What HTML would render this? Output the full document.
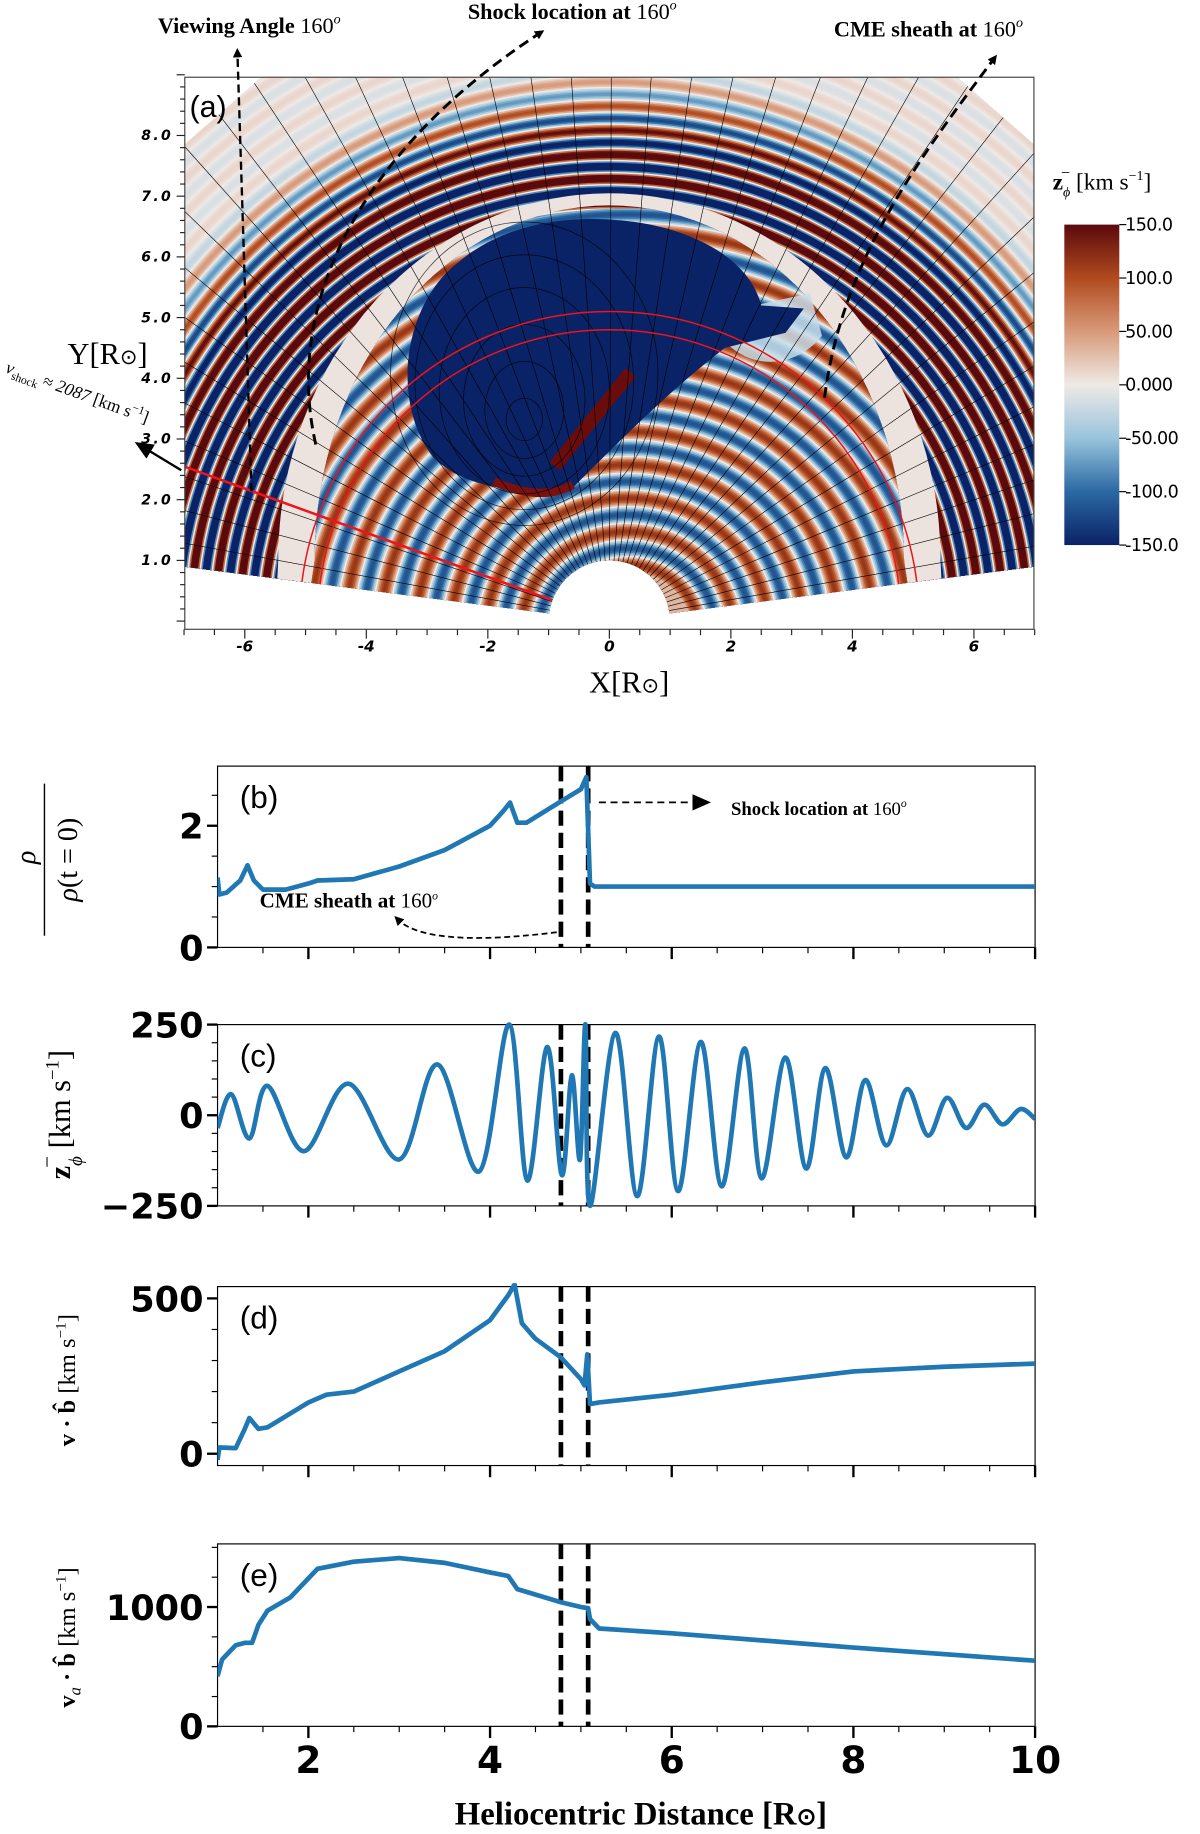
<!DOCTYPE html>
<html><head><meta charset="utf-8"><style>
html,body{margin:0;padding:0;background:#fff}
svg{display:block}
.tk{font-family:"DejaVu Sans","Liberation Sans",sans-serif;font-weight:bold}
.sr{font-family:"Liberation Serif",serif}
</style></head><body>
<svg id="fig" width="1200" height="1834" viewBox="0 0 1026 1568" xmlns="http://www.w3.org/2000/svg">
<defs>
<clipPath id="clipA"><rect x="158" y="66" width="726" height="472"/></clipPath>
<linearGradient id="cbar" x1="0" y1="0" x2="0" y2="1">
<stop offset="0" stop-color="#5a0a0c"/><stop offset="0.1667" stop-color="#b14a1e"/><stop offset="0.3333" stop-color="#d89a7a"/>
<stop offset="0.5" stop-color="#efe9e6"/><stop offset="0.6667" stop-color="#98c4dc"/><stop offset="0.8333" stop-color="#2b69a3"/><stop offset="1" stop-color="#0a2266"/>
</linearGradient>
<marker id="ah" markerWidth="8" markerHeight="8" refX="4" refY="4" orient="auto" markerUnits="userSpaceOnUse"><path d="M0,0 L8,4 L0,8 Z" fill="#000"/></marker>
<marker id="ahb" markerWidth="16" markerHeight="14" refX="8" refY="7" orient="auto" markerUnits="userSpaceOnUse"><path d="M0,0 L16,7 L0,14 Z" fill="#000"/></marker>
</defs>
<g id="panelA"></g>
<g id="panelsB"></g>
</svg>
<script>
// ---------- data for line panels ----------
const rhoX = [1.0,1.02,1.1,1.25,1.33,1.4,1.5,1.75,2.0,2.1,2.5,3.0,3.5,4.0,4.15,4.22,4.3,4.4,4.78,5.0,5.06,5.1,5.15,5.5,6,7,8,9,10];
const rhoY = [1.15,0.87,0.9,1.1,1.35,1.1,0.95,0.95,1.05,1.1,1.12,1.33,1.6,2.0,2.25,2.38,2.05,2.05,2.4,2.6,2.8,1.05,1.0,1.0,1.0,1.0,1.0,1.0,1.0];
const zX = [1.0,1.15,1.35,1.55,1.95,2.44,3.0,3.42,3.88,4.21,4.41,4.63,4.79,4.90,4.99,5.05,5.10,5.38,5.62,5.86,6.07,6.32,6.55,6.80,6.99,7.25,7.48,7.69,7.92,8.13,8.36,8.59,8.82,9.03,9.24,9.44,9.64,9.84,10.0];
const zY = [-35,58,-64,81,-99,87,-122,140,-155,250,-180,188,-165,110,-122,250,-250,227,-223,217,-209,202,-196,184,-174,159,-147,130,-116,97,-83,72,-56,48,-35,29,-25,17,-10];
const vbX = [1.0,1.02,1.2,1.3,1.35,1.45,1.55,2.0,2.2,2.5,3.0,3.5,4.0,4.2,4.27,4.35,4.5,4.78,5.0,5.04,5.07,5.1,5.2,6,7,8,9,10];
const vbY = [-20,20,18,80,115,80,85,165,190,200,265,330,430,510,545,420,370,310,240,220,320,160,165,190,230,265,280,290];
const vaX = [1.0,1.05,1.2,1.3,1.38,1.45,1.55,1.8,2.1,2.5,3.0,3.5,4.0,4.2,4.3,4.78,5.0,5.08,5.1,5.2,6.0,8.0,10.0];
const vaY = [420,560,680,700,700,850,970,1080,1320,1380,1410,1370,1290,1260,1150,1040,1000,990,900,820,780,660,550];
const dashX = [4.78, 5.08];
const xTicks = [2,4,6,8,10];

// ---------- data for map ----------
const cbTicks = [150,100,50,0,-50,-100,-150];
const cbLabels = ["150.0","100.0","50.00","0.000","-50.00","-100.0","-150.0"];
const mapXTicks = [-6,-4,-2,0,2,4,6];
const mapYTicks = [1,2,3,4,5,6,7,8];

const NS="http://www.w3.org/2000/svg";
function mk(tag, attrs, parent){const e=document.createElementNS(NS,tag);for(const k in attrs)e.setAttribute(k,attrs[k]);if(parent)parent.appendChild(e);return e;}

const cstops=[[-150,[10,34,102]],[-100,[43,105,163]],[-50,[152,196,220]],[0,[239,233,230]],[50,[216,154,122]],[100,[177,74,30]],[150,[90,10,12]]];
function cmap(v){v=Math.max(-150,Math.min(150,v));for(let i=0;i<cstops.length-1;i++){const a=cstops[i],b=cstops[i+1];if(v<=b[0]){const t=(v-a[0])/(b[0]-a[0]);return 'rgb('+a[1].map((c,j)=>Math.round(c+(b[1][j]-c)*t)).join(',')+')';}}return 'rgb(90,10,12)';}

// ---------- Panel A ----------
const A=document.getElementById('panelA');
const ax=x=>521+51.95*x, ay=y=>531-51.9*y;
const clipG=mk('g',{'clip-path':'url(#clipA)'},A);
mk('rect',{x:158,y:66,width:726,height:472,fill:'#fff'},clipG);
const img=mk('g',{transform:'translate(521,531) scale(51.95,-51.9)'},clipG);


const wedge=mk('clipPath',{id:'wedge'},img);
const th=7.3*Math.PI/180;
mk('path',{d:`M ${Math.cos(th)} ${Math.sin(th)} L ${14*Math.cos(th)} ${14*Math.sin(th)} L 0 14 L ${-14*Math.cos(th)} ${14*Math.sin(th)} L ${-Math.cos(th)} ${Math.sin(th)} A 1 1 0 0 0 ${Math.cos(th)} ${Math.sin(th)} Z`},wedge);
const wg=mk('g',{'clip-path':'url(#wedge)'},img);
const lam=0.4, st=0.025;
for(let r=13.5;r>1;r-=st){
  let amp=1; if(r>7.6) amp=Math.max(0.06,1-(r-7.6)/1.7);
  const v=210*amp*Math.sin(2*Math.PI*r/lam);
  mk('circle',{cx:0,cy:0,r:r,fill:cmap(v)},wg);
}
// sheath
mk('path',{d:'M -5.45 1 A 5.45 6.05 0 0 0 5.45 1 L 5.5 0 L 5.0 0 L 4.85 1.0 A 4.85 5.85 0 0 1 -4.85 1.0 L -5.0 0 L -5.5 0 Z',fill:'#ece2de','fill-rule':'evenodd'},wg);
// inner stripes
const ic=mk('clipPath',{id:'inner'},img);
mk('path',{d:'M -4.85 1.0 A 4.85 5.85 0 0 0 4.85 1.0 L 5.0 0 L -5.0 0 Z'},ic);
const ig=mk('g',{'clip-path':'url(#inner)'},wg);
for(let r=7;r>1;r-=0.025){
  const v=115*Math.sin(2*Math.PI*(r+0.1)/0.55);
  mk('ellipse',{cx:0.3,cy:-0.2,rx:r*1.05,ry:r,fill:cmap(v)},ig);
}
mk('path',{d:'M 1.9 4.6 C 2.4 4.1 3.1 4.2 3.5 4.7 L 3.3 5.4 L 2.4 5.2 Z',fill:'#c7dde9',opacity:0.85},wg);
// blob
mk('path',{d:'M -2.9 2.7 C -3.6 3.6 -3.4 5.2 -2.5 5.9 C -1.8 6.5 -0.8 6.7 0.2 6.6 C 1.3 6.5 2.3 6.0 2.5 5.2 L 3.2 5.15 L 2.9 4.75 L 1.9 4.5 C 1.0 3.8 0.3 3.1 -0.6 2.2 C -1.2 2.1 -2.3 2.1 -2.9 2.7 Z',fill:'#0a2266'},wg);
mk('path',{d:'M -0.9 2.55 L 0.35 4.1',stroke:'#6a0c0c','stroke-width':0.22,fill:'none'},wg);
mk('path',{d:'M -1.9 2.3 Q -1.1 1.95 -0.6 2.25',stroke:'#7a1010','stroke-width':0.14,fill:'none'},wg);
[[0.3,0.35],[0.65,0.8],[1.0,1.25],[1.4,1.7],[1.8,2.1],[2.2,2.5]].forEach(c=>{
  mk('ellipse',{cx:-1.4,cy:3.2+c[1]*0.35,rx:c[0],ry:c[1],fill:'none',stroke:'#000','stroke-width':0.7,'vector-effect':'non-scaling-stroke',opacity:0.8},wg);
});
for(let a=10;a<=170;a+=4.2){
  const t=a*Math.PI/180;
  mk('line',{x1:Math.cos(t),y1:Math.sin(t),x2:14*Math.cos(t),y2:14*Math.sin(t),stroke:'#000','stroke-width':0.6,'vector-effect':'non-scaling-stroke'},wg);
}
[4.8,5.1].forEach(r=>{mk('circle',{cx:0,cy:0,r:r,fill:'none',stroke:'#ee1419','stroke-width':1.5,'vector-effect':'non-scaling-stroke'},wg);});
const t160=160*Math.PI/180;
mk('line',{x1:Math.cos(t160),y1:Math.sin(t160),x2:9*Math.cos(t160),y2:9*Math.sin(t160),stroke:'#ee1419','stroke-width':2.5,'vector-effect':'non-scaling-stroke'},wg);
mk('rect',{x:158,y:66,width:726,height:472,fill:'none',stroke:'#444','stroke-width':1},A);
for(let x=-7;x<=7.001;x+=0.5){const maj=Math.abs(x%2)<0.01;mk('line',{x1:ax(x),y1:538,x2:ax(x),y2:538+(maj?8:5),stroke:'#222','stroke-width':1},A);}
mapXTicks.forEach(v=>{const t=mk('text',{x:ax(v),y:557,'text-anchor':'middle','font-size':13,'font-style':'italic',class:'tk'},A);t.textContent=v;});
for(let y=0;y<=9;y+=0.2){mk('line',{x1:158,y1:ay(y),x2:158-(Math.abs(y-Math.round(y))<0.01?7:4),y2:ay(y),stroke:'#222','stroke-width':1},A);}
mapYTicks.forEach(v=>{const t=mk('text',{x:148,y:ay(v)+4,'text-anchor':'end','font-size':12,'font-style':'italic',class:'tk','letter-spacing':'2'},A);t.textContent=v.toFixed(1);});
function txt(parent,x,y,s,attrs,name){const t=mk('text',Object.assign({x:x,y:y},attrs),parent);t.innerHTML=s;return t;}
txt(A,162,100,'(a)',{'font-size':26,'font-family':'Liberation Sans,sans-serif'},'panel-a-label');
txt(A,538,592,'X[R<tspan font-size="18">⊙</tspan>]',{'font-size':26,'text-anchor':'middle',class:'sr'},'map-x-axis-title');
txt(A,92,311,'Y[R<tspan font-size="18">⊙</tspan>]',{'font-size':26,'text-anchor':'middle',class:'sr'},'map-y-axis-title');
txt(A,0,0,'<tspan font-style="italic">v</tspan><tspan font-size="10" dy="4">shock</tspan><tspan dy="-4"> ≈ </tspan><tspan font-style="italic">2087</tspan> [km s<tspan font-size="10" dy="-6">−1</tspan><tspan dy="6">]</tspan>',{'font-size':15,class:'sr',transform:'translate(4,318) rotate(20)'},'shock-speed-label');
mk('path',{d:'M 215 420 L 203 45',stroke:'#000','stroke-width':2,'stroke-dasharray':'7,4',fill:'none','marker-end':'url(#ah)'},A);
mk('path',{d:'M 270 380 C 240 250 320 120 462 28',stroke:'#000','stroke-width':2.5,'stroke-dasharray':'9,5',fill:'none','marker-end':'url(#ah)'},A);
mk('path',{d:'M 705 340 C 720 220 790 130 850 50',stroke:'#000','stroke-width':2.5,'stroke-dasharray':'9,5',fill:'none','marker-end':'url(#ah)'},A);
mk('path',{d:'M 155 402 L 122 382',stroke:'#000','stroke-width':2,fill:'none','marker-end':'url(#ahb)'},A);
txt(A,135,28,'Viewing Angle <tspan font-weight="normal">160</tspan><tspan font-size="12" dy="-8" font-style="italic" font-weight="normal">o</tspan>',{'font-size':19,'font-weight':'bold',class:'sr'},'viewing-angle-annotation');
txt(A,400,16,'Shock location at <tspan font-weight="normal">160</tspan><tspan font-size="12" dy="-8" font-style="italic" font-weight="normal">o</tspan>',{'font-size':19,'font-weight':'bold',class:'sr'},'shock-location-annotation');
txt(A,713,31,'CME sheath at <tspan font-weight="normal">160</tspan><tspan font-size="12" dy="-8" font-style="italic" font-weight="normal">o</tspan>',{'font-size':19,'font-weight':'bold',class:'sr'},'cme-sheath-annotation');
const cb=mk('rect',{x:910,y:192,width:47,height:274,fill:'url(#cbar)'},A);


cbTicks.forEach((v,i)=>{const y=192+(150-v)/300*274;mk('line',{x1:957,y1:y,x2:963,y2:y,stroke:'#000','stroke-width':1},A);txt(A,962,y+5,cbLabels[i],{'font-size':15,'font-family':'DejaVu Sans,sans-serif','letter-spacing':'-0.5'},'colorbar-tick-label');});
txt(A,900,162,'<tspan font-weight="bold">z</tspan><tspan font-size="12" dy="6" font-style="italic">ϕ</tspan><tspan font-size="14" dx="-8" dy="-16">−</tspan><tspan dy="10">  [km s</tspan><tspan font-size="12" dy="-8">−1</tspan><tspan dy="8">]</tspan>',{'font-size':20,class:'sr'},'colorbar-title');

// ---------- Line panels ----------
const B=document.getElementById('panelsB');
const X0=186, X1=885;
const px=x=>X0+(x-1)*(X1-X0)/9;
const panels=[
 {id:'b',top:655,bot:810,ymin:0,ymax:2.98,maj:[0,2],minStep:0.5,xs:rhoX,ys:rhoY,smooth:false},
 {id:'c',top:876,bot:1031,ymin:-250,ymax:250,maj:[-250,0,250],minStep:50,xs:zX,ys:zY,smooth:true},
 {id:'d',top:1100,bot:1253,ymin:-38,ymax:538,maj:[0,500],minStep:100,xs:vbX,ys:vbY,smooth:false},
 {id:'e',top:1320,bot:1476,ymin:0,ymax:1529,maj:[0,1000],minStep:250,xs:vaX,ys:vaY,smooth:false}
];
function catmull(pts){let d=`M${pts[0][0]},${pts[0][1]}`;for(let i=0;i<pts.length-1;i++){const p0=pts[Math.max(0,i-1)],p1=pts[i],p2=pts[i+1],p3=pts[Math.min(pts.length-1,i+2)];const c1=[p1[0]+(p2[0]-p0[0])/6,p1[1]+(p2[1]-p0[1])/6],c2=[p2[0]-(p3[0]-p1[0])/6,p2[1]-(p3[1]-p1[1])/6];d+=` C${c1[0]},${c1[1]} ${c2[0]},${c2[1]} ${p2[0]},${p2[1]}`;}return d;}
panels.forEach(p=>{
  const g=mk('g',{},B);
  
  
  const py=v=>p.bot-(v-p.ymin)/(p.ymax-p.ymin)*(p.bot-p.top);
  const cid='clip'+p.id;
  const cp=mk('clipPath',{id:cid},g);mk('rect',{x:X0,y:p.top-3,width:X1-X0,height:p.bot-p.top+6},cp);
  mk('rect',{x:X0,y:p.top,width:X1-X0,height:p.bot-p.top,fill:'none',stroke:'#000','stroke-width':1},g);
  for(let x=1.5;x<=10.001;x+=0.5){const maj=Math.abs(x-Math.round(x/2)*2)<0.01;mk('line',{x1:px(x),y1:p.bot,x2:px(x),y2:p.bot+(maj?10:5),stroke:'#000','stroke-width':maj?2:1},g);}
  let s=Math.ceil(p.ymin/p.minStep)*p.minStep;
  for(let v=s;v<=p.ymax+1e-6;v+=p.minStep){const maj=p.maj.some(m=>Math.abs(m-v)<1e-6);mk('line',{x1:X0,y1:py(v),x2:X0-(maj?9:5),y2:py(v),stroke:'#000','stroke-width':maj?2:1},g);}
  p.maj.forEach(v=>{const t=mk('text',{x:X0-12,y:py(v)+11,'text-anchor':'end','font-size':30,class:'tk'},g);t.textContent=v<0?'\u2212'+Math.abs(v):v;});
  dashX.forEach(x=>{const l=mk('line',{x1:px(x),y1:p.top,x2:px(x),y2:p.bot,stroke:'#000','stroke-width':4,'stroke-dasharray':'13,6'},g);});
  const pts=p.xs.map((x,i)=>[px(x),py(p.ys[i])]);
  const d=p.smooth?catmull(pts):'M'+pts.map(q=>q.join(',')).join(' L');
  const path=mk('path',{d:d,fill:'none',stroke:'#1f77b4','stroke-width':4,'stroke-linejoin':'round','clip-path':`url(#${cid})`},g);
  
  
  const lb=mk('text',{x:205,y:p.top+36,'font-size':27,'font-family':'Liberation Sans,sans-serif'},g);lb.textContent='('+p.id+')';
  
  
  if(p.id==='e'){xTicks.forEach(v=>{const t=mk('text',{x:px(v),y:1516,'text-anchor':'middle','font-size':32,class:'tk'},g);t.textContent=v;});}
});
txt(B,0,0,'<tspan font-style="italic">ρ</tspan>',{'font-size':24,class:'sr','text-anchor':'middle',transform:'translate(30,733) rotate(-90)'},'y-title-b-num');
mk('line',{x1:38,y1:670,x2:38,y2:800,stroke:'#000','stroke-width':1.2},B);
txt(B,0,0,'<tspan font-style="italic">ρ</tspan>(t = 0)',{'font-size':24,class:'sr','text-anchor':'middle',transform:'translate(66,735) rotate(-90)'},'y-title-b-den');
txt(B,0,0,'<tspan font-weight="bold">z</tspan><tspan font-size="16" dy="10" font-style="italic">ϕ</tspan><tspan font-size="18" dx="-10" dy="-24">−</tspan><tspan dy="14">  [km s</tspan><tspan font-size="16" dy="-10">−1</tspan><tspan dy="10">]</tspan>',{'font-size':26,class:'sr','text-anchor':'middle',transform:'translate(60,953) rotate(-90)'},'y-title-c');
txt(B,0,0,'<tspan font-weight="bold">v · b̂</tspan> [km s<tspan font-size="13" dy="-8">−1</tspan><tspan dy="8">]</tspan>',{'font-size':21,class:'sr','text-anchor':'middle',transform:'translate(64,1180) rotate(-90)'},'y-title-d');
txt(B,0,0,'<tspan font-weight="bold">v</tspan><tspan font-size="14" dy="5" font-style="italic">a</tspan><tspan dy="-5" font-weight="bold"> · b̂</tspan> [km s<tspan font-size="13" dy="-8">−1</tspan><tspan dy="8">]</tspan>',{'font-size':21,class:'sr','text-anchor':'middle',transform:'translate(64,1400) rotate(-90)'},'y-title-e');
txt(B,548,1560,'Heliocentric Distance [R<tspan font-size="20">⊙</tspan>]',{'font-size':28,'font-weight':'bold',class:'sr','text-anchor':'middle'},'x-axis-title');
mk('path',{d:'M 512 686 L 600 686',stroke:'#000','stroke-width':1.5,'stroke-dasharray':'6,4',fill:'none','marker-end':'url(#ahb)'},B);
txt(B,625,697,'Shock location at <tspan font-weight="normal">160</tspan><tspan font-size="10" dy="-7" font-style="italic" font-weight="normal">o</tspan>',{'font-size':16,'font-weight':'bold',class:'sr'},'shock-location-note');
mk('path',{d:'M 476 797 C 420 804 360 806 340 786',stroke:'#000','stroke-width':1.5,'stroke-dasharray':'5,3',fill:'none','marker-end':'url(#ah)'},B);
txt(B,222,776,'CME sheath at <tspan font-weight="normal">160</tspan><tspan font-size="10" dy="-7" font-style="italic" font-weight="normal">o</tspan>',{'font-size':18,'font-weight':'bold',class:'sr'},'cme-sheath-note');
</script>
</body></html>
